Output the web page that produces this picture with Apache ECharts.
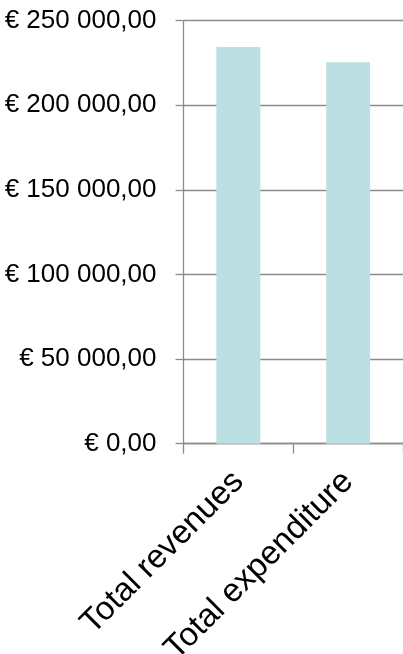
<!DOCTYPE html>
<html>
<head>
<meta charset="utf-8">
<script src="https://cdn.jsdelivr.net/npm/echarts@6/dist/echarts.min.js"></script>
<style>
html, body { margin: 0; padding: 0; background: #fff; }
#main { width: 403px; height: 654px; }
</style>
</head>
<body>
<div id="main"></div>
<script>
var categories = ['Total revenues', 'Total expenditure'];
var values = [234500, 225400];
var yTicks = [0, 50000, 100000, 150000, 200000, 250000];

function euro(v) {
    var s = Math.round(v).toString().replace(/\B(?=(\d{3})+(?!\d))/g, ' ');
    return '€ ' + s + ',00';
}

var axisGrey = '#8c8c8c';
var font = 'Liberation Sans, Arial, sans-serif';

var option = {
    backgroundColor: '#ffffff',
    animation: false,
    grid: {
        left: 183.5,
        top: 20.7,
        right: 0,
        bottom: 210.3,
        containLabel: false,
        outerBoundsMode: 'none'
    },
    xAxis: {
        type: 'category',
        data: categories,
        axisLine: { lineStyle: { color: axisGrey, width: 1.3 } },
        axisTick: { show: true, length: 10, lineStyle: { color: axisGrey, width: 1.3 } },
        axisLabel: {
            rotate: 45,
            interval: 0,
            margin: 33,
            color: '#000',
            fontFamily: font,
            fontSize: 33
        }
    },
    yAxis: {
        type: 'value',
        min: yTicks[0],
        max: yTicks[yTicks.length - 1],
        interval: yTicks[1] - yTicks[0],
        axisLine: { show: true, lineStyle: { color: axisGrey, width: 1.3 } },
        axisTick: { show: true, length: 8, lineStyle: { color: axisGrey, width: 1.3 } },
        splitLine: { show: true, lineStyle: { color: axisGrey, width: 1.3 } },
        axisLabel: {
            margin: 27,
            color: '#000',
            fontFamily: font,
            fontSize: 26,
            formatter: euro
        }
    },
    series: [{
        type: 'bar',
        data: values,
        barWidth: '40%',
        itemStyle: { color: '#bbdfe2' }
    }]
};

var myChart = echarts.init(document.getElementById('main'));
myChart.setOption(option);
</script>
</body>
</html>
